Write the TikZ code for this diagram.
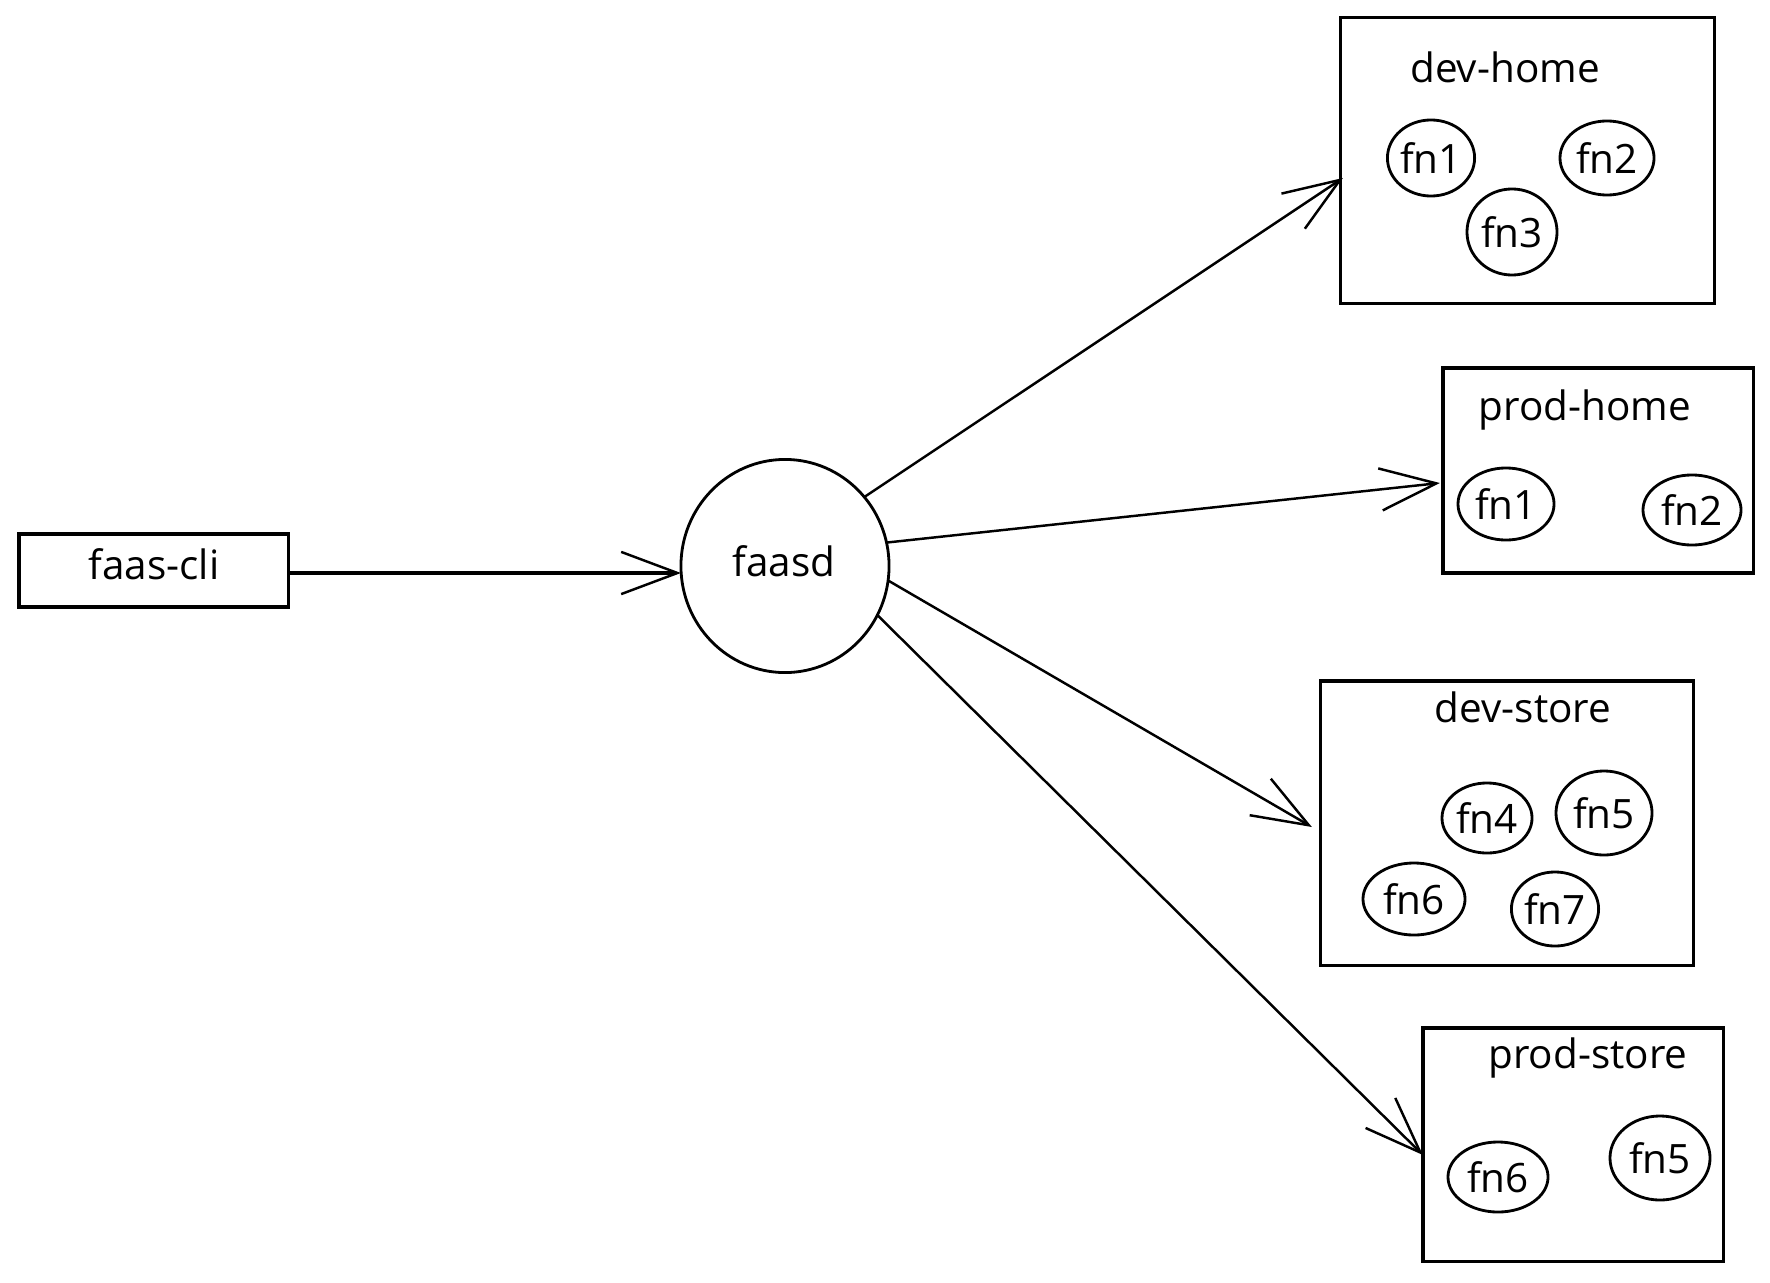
\documentclass[tikz,border=0pt]{standalone}
\usepackage{fontspec}
\setmainfont{Open Sans}
\usetikzlibrary{shapes.geometric,arrows.meta,calc}
\tikzset{
  boxnode/.style={draw, line width=0.9pt, inner sep=0pt, outer sep=0pt},
  titlenode/.style={anchor=base, inner sep=0pt, font=\fontsize{11.5}{13}\selectfont},
  fnnode/.style={draw, ellipse, line width=0.8pt, inner sep=0pt, outer sep=0pt, font=\fontsize{11.5}{13}\selectfont},
  conn/.style={line width=0.7pt, -{Straight Barb[length=16pt,width=12pt,line width=0.7pt]}},
}
\begin{document}
\begin{tikzpicture}[x=0.01cm,y=-0.01cm]
\useasboundingbox[fill=white] (0,0) rectangle (1770,1282);
% faas-cli and faasd
\node[boxnode, minimum width=2.69cm, minimum height=0.73cm] (faascli) at (153.5,570.5) {};
\node[titlenode] (faasclit) at (154,579) {faas-cli};
\node[draw, ellipse, line width=0.8pt, inner sep=0pt, outer sep=0pt, minimum width=2.08cm, minimum height=2.13cm] (faasd) at (785,566) {};
\node[titlenode] (faasdt) at (784,576) {faasd};
% containers
\node[boxnode, minimum width=3.73cm, minimum height=2.85cm] (devhome) at (1527.5,160.5) {};
\node[titlenode] (devhomet) at (1505,83) {dev-home};
\node[boxnode, minimum width=3.10cm, minimum height=2.05cm] (prodhome) at (1598,470.5) {};
\node[titlenode] (prodhomet) at (1585,420) {prod-home};
\node[boxnode, minimum width=3.72cm, minimum height=2.84cm] (devstore) at (1507,823) {};
\node[titlenode] (devstoret) at (1523,722) {dev-store};
\node[boxnode, minimum width=3.00cm, minimum height=2.33cm] (prodstore) at (1573,1144.5) {};
\node[titlenode] (prodstoret) at (1588,1068) {prod-store};
% functions
\node[fnnode, minimum width=0.86cm, minimum height=0.76cm] (dhfn1) at (1431,158) {fn1};
\node[fnnode, minimum width=0.94cm, minimum height=0.74cm] (dhfn2) at (1607,158) {fn2};
\node[fnnode, minimum width=0.90cm, minimum height=0.86cm] (dhfn3) at (1512,232) {fn3};
\node[fnnode, minimum width=0.96cm, minimum height=0.72cm] (phfn1) at (1506,504) {fn1};
\node[fnnode, minimum width=0.98cm, minimum height=0.70cm] (phfn2) at (1692,510) {fn2};
\node[fnnode, minimum width=0.90cm, minimum height=0.70cm] (dsfn4) at (1487,818) {fn4};
\node[fnnode, minimum width=0.96cm, minimum height=0.84cm] (dsfn5) at (1604,813) {fn5};
\node[fnnode, minimum width=1.02cm, minimum height=0.72cm] (dsfn6) at (1414,899) {fn6};
\node[fnnode, minimum width=0.84cm, minimum height=0.74cm] (dsfn7) at (1555,909) {fn7};
\node[fnnode, minimum width=1.00cm, minimum height=0.70cm] (psfn6) at (1498,1177) {fn6};
\node[fnnode, minimum width=1.00cm, minimum height=0.84cm] (psfn5) at (1660,1158) {fn5};
% connectors
\draw[conn, line width=0.9pt] ($(faascli.east)+(0,2.5)$) -- ($(faasd.west)+(0,7)$);
\draw[conn] (faasd.41) -- ($(devhome.west)+(2,17.5)$);
\draw[conn] (faasd.13) -- ($(prodhome.west)+(-3,12.5)$);
\draw[conn] (faasd.-8) -- ($(devstore.west)+(-9,4)$);
\draw[conn] (faasd.-28) -- ($(prodstore.west)+(0,10.5)$);
\end{tikzpicture}
\end{document}
